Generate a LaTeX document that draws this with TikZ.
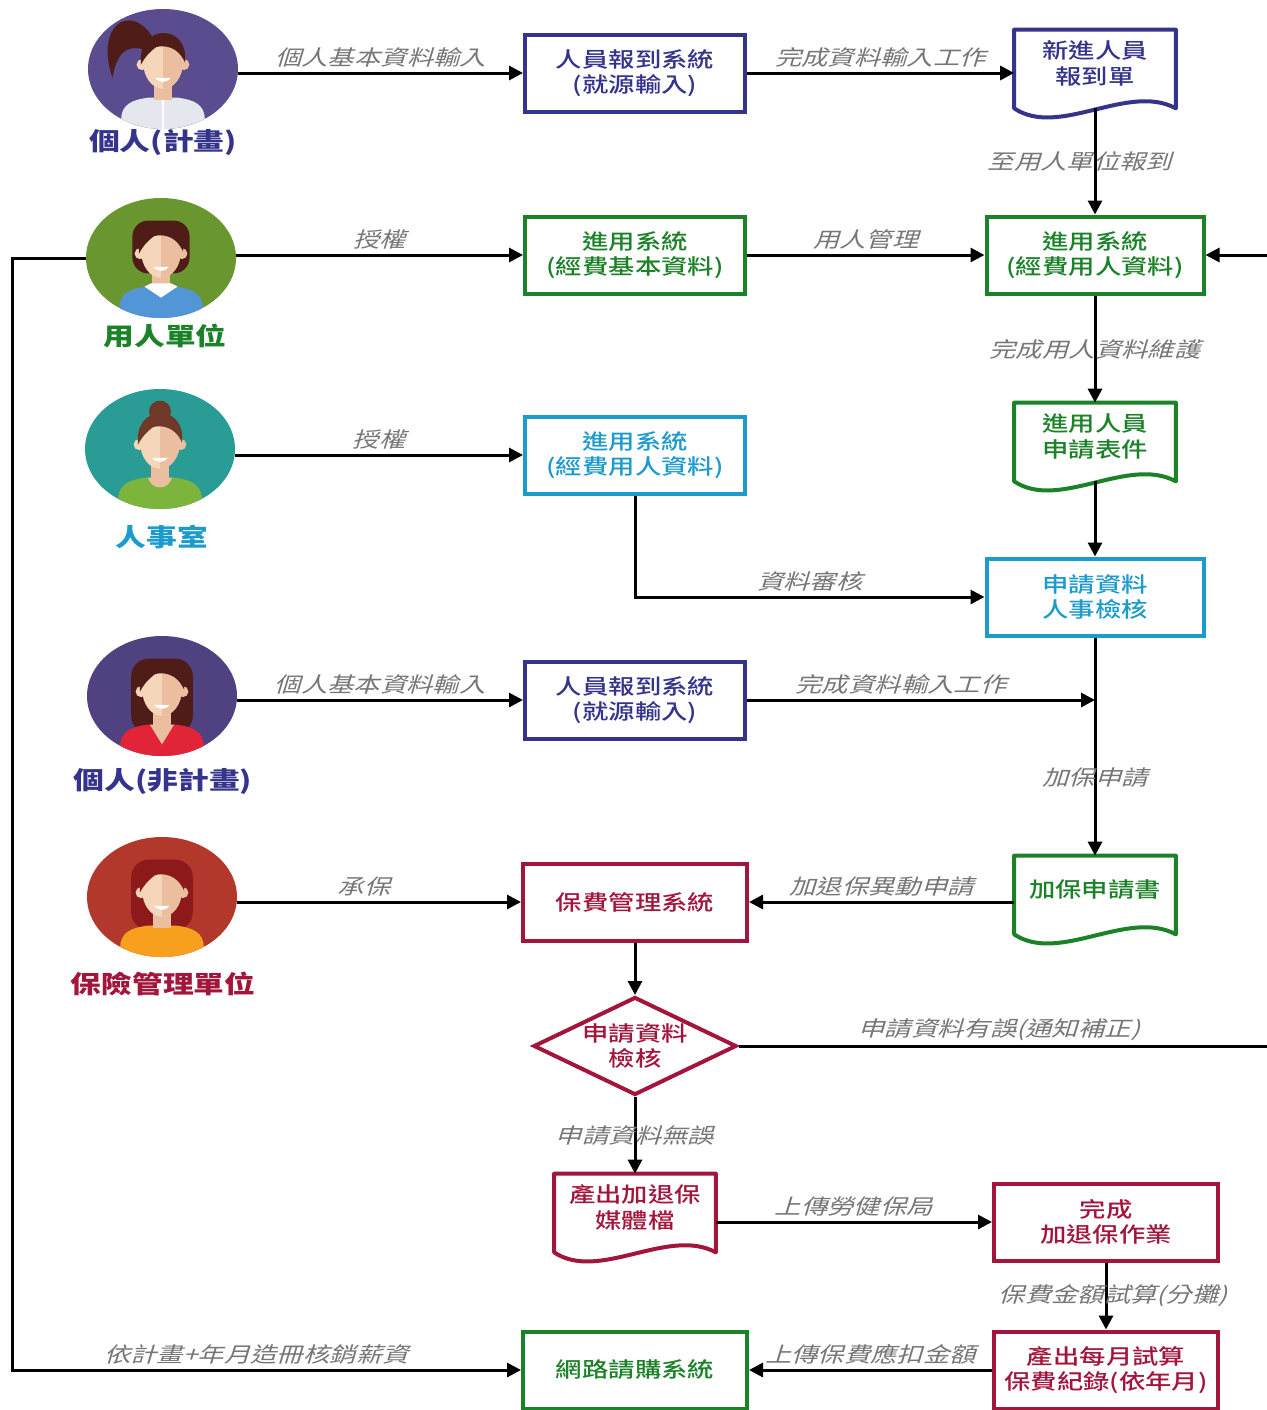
\documentclass[tikz,border=0pt]{standalone}
\usepackage{fontspec}
\usepackage{xcolor}
\usepackage{tikz}
\usetikzlibrary{shapes.geometric, arrows.meta}
\usetikzlibrary{calc, positioning}

\newfontfamily\cjk[FakeStretch=1.25]{Noto Sans CJK TC}
\newfontfamily\cjkmed[FakeStretch=1.25]{Noto Sans CJK TC Medium}
\newfontfamily\cjkit[FakeStretch=1.25,FakeSlant=0.3]{Noto Sans CJK TC}

\definecolor{navy}{RGB}{52,52,140}
\definecolor{leafgreen}{RGB}{28,130,40}
\definecolor{skyblue}{RGB}{30,155,205}
\definecolor{crimson}{RGB}{163,22,60}
\definecolor{labelgray}{RGB}{118,118,118}
\definecolor{skin}{RGB}{246,214,186}
\definecolor{skinshade}{RGB}{234,190,158}
\definecolor{bgplum}{RGB}{90,76,142}
\definecolor{bgolive}{RGB}{106,150,48}
\definecolor{bgteal}{RGB}{42,156,150}
\definecolor{bgindigo}{RGB}{80,66,128}
\definecolor{bgbrick}{RGB}{178,56,44}
\definecolor{hairdark}{RGB}{80,28,24}
\definecolor{hairbrown}{RGB}{112,56,40}
\definecolor{hairred}{RGB}{140,26,26}
\definecolor{shirtwhite}{RGB}{228,232,238}
\definecolor{shirtblue}{RGB}{82,150,215}
\definecolor{shirtgreen}{RGB}{124,180,60}
\definecolor{shirtred}{RGB}{225,36,56}
\definecolor{shirtorange}{RGB}{246,160,30}

\tikzstyle{actor} = [ellipse, minimum width=30mm, minimum height=24mm, inner sep=0pt]
\tikzstyle{actortext} = [font=\cjk\bfseries\fontsize{14}{17}\selectfont]
\tikzstyle{process} = [rectangle, minimum width=44mm, minimum height=15.4mm, line width=0.8mm, fill=white, align=center, font=\cjkmed\fontsize{12}{14.5}\selectfont]
\tikzstyle{doc} = [rectangle, minimum width=32.2mm, minimum height=15.6mm, align=center, font=\cjkmed\fontsize{12}{14.5}\selectfont]
\tikzstyle{decision} = [diamond, aspect=2, minimum width=40.6mm, minimum height=19.6mm, inner sep=0pt, line width=0.8mm, fill=white, align=center, font=\cjkmed\fontsize{12}{14.5}\selectfont]
\tikzstyle{flow} = [inner sep=0pt, text=labelgray, font=\cjkit\fontsize{12}{14}\selectfont]
\tikzstyle{arrow} = [line width=0.6mm, ->, >={Triangle[length=2.8mm,width=2.8mm]}]

% pushes the text of a document node up, clear of the wavy edge
\newcommand{\docpad}{\rule[-2.6mm]{0pt}{2.6mm}}

% outline of a document node: flat top, wavy bottom
\newcommand{\docoutline}[2]{%
  \draw[#2, line width=0.8mm, line join=round] (#1.south west) -- (#1.north west) -- (#1.north east) -- (#1.south east)
    .. controls ($(#1.south east)+(-48,-26)$) and ($(#1.south west)+(45,30)$) .. (#1.south west) -- cycle;}

% little person inside an actor node: #2 hair, #3 shirt, #4 drawn behind, #5 drawn on top
\newcommand{\person}[5]{%
  \begin{scope}[shift={(#1.center)}]
    \clip (0,0) ellipse [x radius=75, y radius=60];
    \begin{scope}[scale=1.1]
    #4
    \fill[#3] (-38,70) -- (-38,46) .. controls (-38,32) and (-28,28) .. (-13,26) -- (13,26)
      .. controls (28,28) and (38,32) .. (38,46) -- (38,70) -- cycle;
    \fill[skinshade] (-8,10) rectangle (8,28);
    \fill[skin] (-19,-4) circle [radius=5];
    \fill[skinshade] (19,-4) circle [radius=5];
    \fill[skin] (0,-6) ellipse [x radius=18, y radius=24];
    \begin{scope}
      \clip (0,-40) rectangle (30,30);
      \fill[skinshade] (0,-6) ellipse [x radius=18, y radius=24];
    \end{scope}
    \fill[#2] (-20,-4) .. controls (-24,-42) and (24,-42) .. (20,-6)
      .. controls (14,-20) and (2,-22) .. (-6,-20) .. controls (-12,-16) and (-17,-10) .. cycle;
    \fill[white] (-7,8) .. controls (-3,13) and (3,13) .. (7,8) -- cycle;
    #5
    \end{scope}
  \end{scope}}

\begin{document}
\begin{tikzpicture}[x=0.2mm, y=-0.2mm]
\useasboundingbox (0,0) rectangle (1267,1410);
\fill[white] (0,0) rectangle (1267,1410);

% people
\node (a1) [actor, fill=bgplum] at (163,69) {};
\person{a1}{hairdark}{shirtwhite}{\fill[hairdark] (-10,-30) .. controls (-30,-60) and (-62,-40) .. (-46,8) .. controls (-42,-14) and (-34,-22) .. (-18,-18) -- cycle;}{\draw[white, line width=0.3mm] (0,28) -- (0,60);}
\node (a1t) [actortext, text=navy] at (163,142) {個人(計畫)};

\node (a2) [actor, fill=bgolive] at (161,258) {};
\person{a2}{hairdark}{shirtblue}{\fill[hairdark, rounded corners=9] (-26,-34) rectangle (26,14);}{\fill[white] (-15,26) -- (0,36) -- (15,26) -- (9,23) -- (-9,23) -- cycle;}
\node (a2t) [actortext, text=leafgreen] at (165,336) {用人單位};

\node (a3) [actor, fill=bgteal] at (160,449) {};
\person{a3}{hairbrown}{shirtgreen}{\fill[hairbrown] (0,-34) circle [radius=10];}{\fill[skinshade] (-11,26) .. controls (-7,38) and (7,38) .. (11,26) -- cycle;}
\node (a3t) [actortext, text=skyblue] at (162,537) {人事室};

\node (a4) [actor, fill=bgindigo] at (162,696) {};
\person{a4}{hairdark}{shirtred}{\fill[hairdark, rounded corners=10] (-28,-34) rectangle (28,34);}{\fill[skinshade] (-11,26) -- (0,44) -- (11,26) -- cycle;}
\node (a4t) [actortext, text=navy] at (163,781) {個人(非計畫)};

\node (a5) [actor, fill=bgbrick] at (162,897) {};
\person{a5}{hairred}{shirtorange}{\fill[hairred, rounded corners=10] (-28,-34) rectangle (28,30);}{}
\node (a5t) [actortext, text=crimson] at (163,984) {保險管理單位};

% systems and documents
\node (p1) [process, draw=navy, text=navy] at (635,73) {人員報到系統\\(就源輸入)};
\node (d1) [doc, text=navy] at (1095,69) {新進人員\\報到單\docpad};
\docoutline{d1}{navy}
\node (b2) [process, draw=leafgreen, text=leafgreen] at (635,255) {進用系統\\(經費基本資料)};
\node (u2) [process, draw=leafgreen, text=leafgreen, minimum width=43.4mm] at (1095,255) {進用系統\\(經費用人資料)};
\node (h1) [process, draw=skyblue, text=skyblue] at (635,455) {進用系統\\(經費用人資料)};
\node (d2) [doc, text=leafgreen] at (1095,442) {進用人員\\申請表件\docpad};
\docoutline{d2}{leafgreen}
\node (h2) [process, draw=skyblue, text=skyblue, minimum width=43.4mm] at (1095,597) {申請資料\\人事檢核};
\node (p2) [process, draw=navy, text=navy] at (635,700) {人員報到系統\\(就源輸入)};
\node (d3) [doc, text=leafgreen] at (1095,895) {加保申請書\docpad};
\docoutline{d3}{leafgreen}
\node (f1) [process, draw=crimson, text=crimson, minimum width=44.8mm] at (635,902) {保費管理系統};
\node (dia) [decision, draw=crimson, text=crimson] at (635,1046) {申請資料\\檢核};
\node (d4) [doc, text=crimson] at (635,1213) {產出加退保\\媒體檔\docpad};
\docoutline{d4}{crimson}
\node (c1) [process, draw=crimson, text=crimson, minimum width=44.8mm] at (1106,1222) {完成\\加退保作業};
\node (c2) [process, draw=crimson, text=crimson, minimum width=44.8mm] at (1106,1370) {產出每月試算\\保費紀錄(依年月)};
\node (w1) [process, draw=leafgreen, text=leafgreen, minimum width=44.8mm] at (635,1370) {網路請購系統};

\coordinate (rail) at (12,0);
\coordinate (rim) at (1290,0);

% connectors
\draw [arrow] (a1.east |- p1.west) -- node[flow, above=0.8mm] (l1) {個人基本資料輸入} (p1.west);
\draw [arrow] (p1.east) -- node[flow, above=0.8mm] (l2) {完成資料輸入工作} (p1.east -| d1.west);
\draw [arrow] (d1.south) -- node[flow, xshift=-3mm] (l3) {至用人單位報到} (u2.north);
\draw [arrow] (a2.east |- b2.west) -- node[flow, above=0.8mm] (l4) {授權} (b2.west);
\draw [arrow] (b2) -- node[flow, above=0.8mm] (l5) {用人管理} (u2);
\draw [arrow] (u2) -- node[flow] (l6) {完成用人資料維護} (d2);
\draw [arrow] (a3.east |- h1.west) -- node[flow, above=0.8mm] (l7) {授權} (h1.west);
\draw [arrow] (h1.south) |- node[flow, pos=0.75, above=0.8mm] (l8) {資料審核} (h2.west);
\draw [arrow] (d2) -- (h2);
\draw [arrow] (a4.east |- p2.west) -- node[flow, above=0.8mm] (l9) {個人基本資料輸入} (p2.west);
\draw [arrow] (p2.east) -- node[flow, above=0.8mm, xshift=-4mm] (l10) {完成資料輸入工作} (p2.east -| h2.south);
\draw [arrow] (h2) -- node[flow, pos=0.64] (l11) {加保申請} (d3);
\draw [arrow] (a5.east |- f1.west) -- node[flow, above=0.8mm, xshift=-3mm] (l12) {承保} (f1.west);
\draw [arrow] (f1.east -| d3.west) -- node[flow, above=0.8mm] (l13) {加退保異動申請} (f1.east);
\draw [arrow] (f1) -- (dia);
\draw [arrow] (dia.east) -- node[flow, above=0.8mm, xshift=-3mm] (l14) {申請資料有誤(通知補正)} (dia.east -| rim) |- (u2.east);
\draw [arrow] (dia) -- node[flow] (l15) {申請資料無誤} (d4);
\draw [arrow] (c1.west -| d4.east) -- node[flow, above=0.8mm] (l16) {上傳勞健保局} (c1.west);
\draw [arrow] (c1) -- node[flow, xshift=1.4mm] (l17) {保費金額試算(分攤)} (c2);
\draw [arrow] (c2) -- node[flow, above=0.8mm] (l18) {上傳保費應扣金額} (w1);
\draw [arrow] (a2.west) -- (a2.west -| rail) |- node[flow, pos=0.75, above=0.8mm, xshift=-2mm] (l19) {依計畫+年月造冊核銷薪資} (w1.west);
\end{tikzpicture}
\end{document}
